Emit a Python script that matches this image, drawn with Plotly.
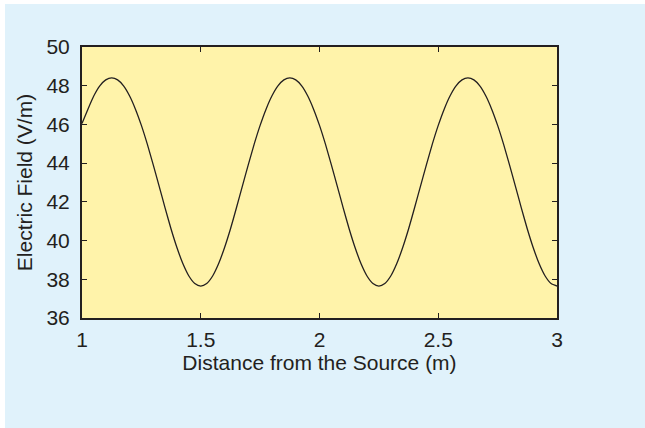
import plotly.graph_objects as go

# Distance from the source (m), sampled every 0.025 m
distance_m = [
    1.000, 1.025, 1.050, 1.075, 1.100, 1.125, 1.150, 1.175, 1.200, 1.225,
    1.250, 1.275, 1.300, 1.325, 1.350, 1.375, 1.400, 1.425, 1.450, 1.475,
    1.500, 1.525, 1.550, 1.575, 1.600, 1.625, 1.650, 1.675, 1.700, 1.725,
    1.750, 1.775, 1.800, 1.825, 1.850, 1.875, 1.900, 1.925, 1.950, 1.975,
    2.000, 2.025, 2.050, 2.075, 2.100, 2.125, 2.150, 2.175, 2.200, 2.225,
    2.250, 2.275, 2.300, 2.325, 2.350, 2.375, 2.400, 2.425, 2.450, 2.475,
    2.500, 2.525, 2.550, 2.575, 2.600, 2.625, 2.650, 2.675, 2.700, 2.725,
    2.750, 2.775, 2.800, 2.825, 2.850, 2.875, 2.900, 2.925, 2.950, 2.975,
    3.000,
]

# Electric field magnitude (V/m)
electric_field = [
    46.05, 46.79, 47.48, 47.99, 48.30, 48.40, 48.30, 47.99, 47.48, 46.79,
    45.95, 44.98, 43.91, 42.80, 41.68, 40.60, 39.63, 38.80, 38.17, 37.78,
    37.65, 37.78, 38.17, 38.80, 39.63, 40.60, 41.68, 42.80, 43.91, 44.98,
    45.95, 46.79, 47.48, 47.99, 48.30, 48.40, 48.30, 47.99, 47.48, 46.79,
    45.95, 44.98, 43.91, 42.80, 41.68, 40.60, 39.63, 38.80, 38.17, 37.78,
    37.65, 37.78, 38.17, 38.80, 39.63, 40.60, 41.68, 42.80, 43.91, 44.98,
    45.95, 46.79, 47.48, 47.99, 48.30, 48.40, 48.30, 47.99, 47.48, 46.79,
    45.95, 44.98, 43.91, 42.80, 41.68, 40.60, 39.63, 38.80, 38.17, 37.78,
    37.65,
]

x_tick_vals = [1, 1.5, 2, 2.5, 3]
x_tick_text = ["1", "1.5", "2", "2.5", "3"]
y_tick_vals = [36, 38, 40, 42, 44, 46, 48, 50]
y_tick_text = ["36", "38", "40", "42", "44", "46", "48", "50"]

INK = "#231f20"
FONT = "Liberation Sans, Arial, Helvetica, sans-serif"

fig = go.Figure()
fig.add_trace(go.Scatter(
    x=distance_m, y=electric_field, mode="lines",
    line=dict(color=INK, width=1.3, shape="spline", smoothing=0.6),
    hoverinfo="skip", showlegend=False,
))

# thin white slivers at the top and left edge of the panel
fig.add_shape(type="rect", xref="paper", yref="paper",
              x0=(-10 - 82) / 475, x1=(5 - 82) / 475,
              y0=(318 - 440) / 271, y1=(318 + 10) / 271,
              fillcolor="#ffffff", line=dict(width=0), layer="below")
fig.add_shape(type="rect", xref="paper", yref="paper",
              x0=(-10 - 82) / 475, x1=(660 - 82) / 475,
              y0=(318 - 4) / 271, y1=(318 + 10) / 271,
              fillcolor="#ffffff", line=dict(width=0), layer="below")

axis_common = dict(
    showline=True, linecolor=INK, linewidth=2, mirror="ticks",
    ticks="inside", ticklen=5, tickwidth=1, tickcolor=INK,
    showgrid=False, zeroline=False,
    tickfont=dict(family=FONT, size=21, color=INK),
)

fig.update_xaxes(
    range=[1, 3], tickvals=x_tick_vals, ticktext=x_tick_text,
    title=dict(text="Distance from the Source (m)",
               font=dict(family=FONT, size=21, color=INK), standoff=4),
    ticklabelstandoff=2,
    **axis_common,
)
fig.update_yaxes(
    range=[36, 50], tickvals=y_tick_vals, ticktext=y_tick_text,
    title=dict(text="Electric Field (V/m)",
               font=dict(family=FONT, size=21, color=INK), standoff=8),
    ticklabelstandoff=6,
    **axis_common,
)

fig.update_layout(
    width=645, height=428,
    margin=dict(l=82, r=88, t=47, b=110, autoexpand=False),
    paper_bgcolor="#e0f2fb",
    plot_bgcolor="#fff3aa",
    font=dict(family=FONT, color=INK),
)

fig.write_html("out.html", config={"displayModeBar": False},
               post_script="document.body.style.margin='0';")
